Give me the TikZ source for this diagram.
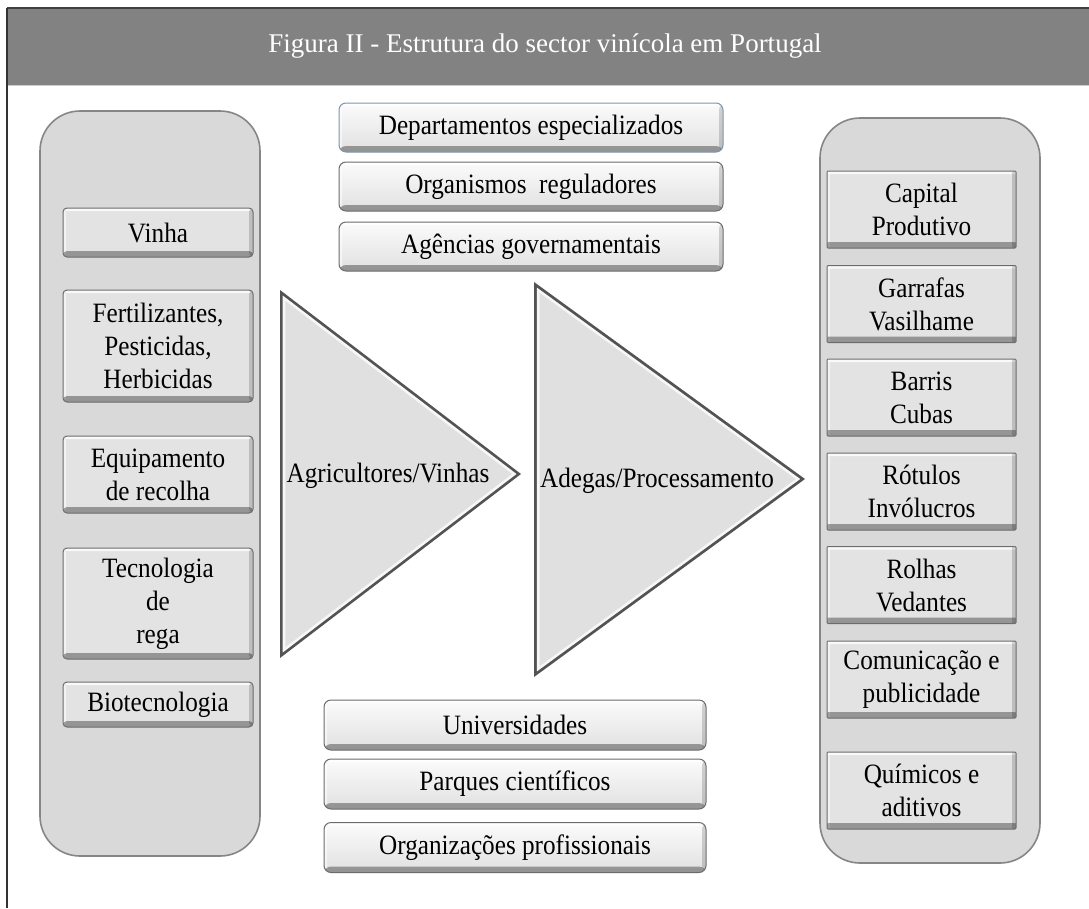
\documentclass[tikz,border=0pt]{standalone}
\usepackage{fontspec}
\setmainfont{Liberation Serif}
\newfontfamily\narrowserif{Liberation Serif}[FakeStretch=0.9]
\usetikzlibrary{calc}

\newcommand\bevelpp{%
  \fill[white,opacity=0.8] (path picture bounding box.north west) rectangle ([yshift=-3pt]path picture bounding box.north east);
  \fill[white,opacity=0.55] (path picture bounding box.north west) rectangle ([xshift=3pt]path picture bounding box.south west);
  \fill[black,opacity=0.16] ([xshift=-4pt]path picture bounding box.north east) rectangle (path picture bounding box.south east);
  \fill[black,opacity=0.34] ([yshift=6pt]path picture bounding box.south west) rectangle (path picture bounding box.south east);
}

\tikzset{
  boxtext/.style={font=\narrowserif\fontsize{28}{33}\selectfont, align=center, inner sep=0pt, text=black},
  panel/.style={fill=gray!30, draw=gray!95, line width=1.6pt, rounded corners=40pt},
  lbox/.style={boxtext, fill=gray!22, draw=gray!85!black, line width=1pt,
    rounded corners=4pt, minimum width=190pt, path picture={\bevelpp}},
  rbox/.style={boxtext, fill=gray!22, draw=gray!85!black, line width=1pt,
    rounded corners=1pt, minimum width=189pt, minimum height=77pt, path picture={\bevelpp}},
  mbox/.style={boxtext, top color=gray!3, bottom color=gray!24, draw=gray!85!black, line width=1pt,
    rounded corners=7pt, minimum height=49pt, path picture={\bevelpp}},
  tritext/.style={font=\narrowserif\fontsize{28}{33}\selectfont, inner sep=0pt, text=black},
}

\begin{document}
\begin{tikzpicture}[x=1pt,y=-1pt]
\useasboundingbox (0,0) rectangle (1089,908);
\fill[white] (0,0) rectangle (1089,908);

% header band and frame
\fill[gray!98] (7,8) rectangle (1089,85);
\draw[gray!40, line width=1pt] (7,85) -- (1089,85);
\draw[black!75, line width=1.6pt] (7,8) -- (1089,8);
\draw[black!80, line width=1.6pt] (7,8) -- (7,908);
\node[text=white, font=\fontsize{27}{32}\selectfont, inner sep=0pt] (title) at (545,46)
  {Figura II - Estrutura do sector vinícola em Portugal};

% side panels
\draw[panel] (40,111) rectangle (260,856);
\draw[panel] (820,118) rectangle (1040,863);

% input boxes, left panel
\node[lbox, minimum height=49pt]  (vinha)  at (158,232.5) {Vinha};
\node[lbox, minimum height=112pt] (fert)   at (158,346)   {Fertilizantes,\\Pesticidas,\\Herbicidas};
\node[lbox, minimum height=77pt]  (equip)  at (158,474.5) {Equipamento\\de recolha};
\node[lbox, minimum height=111pt] (rega)   at (158,603.5) {Tecnologia\\de\\rega};
\node[lbox, minimum height=45pt]  (biotec) at (158,704.5) {Biotecnologia};

% supplier boxes, right panel
\node[rbox] (capital) at (921.5,209.5) {Capital\\Produtivo};
\node[rbox] (garraf)  at (921.5,304)   {Garrafas\\Vasilhame};
\node[rbox] (barris)  at (921.5,397.5) {Barris\\Cubas};
\node[rbox] (rotulos) at (921.5,491.5) {Rótulos\\Invólucros};
\node[rbox] (rolhas)  at (921.5,585)   {Rolhas\\Vedantes};
\node[rbox] (comunic) at (921.5,679.5) {Comunicação e\\publicidade};
\node[rbox] (quimic)  at (921.5,790.5) {Químicos e\\aditivos};

% institutions above
\node[mbox, minimum width=384pt, draw={rgb,255:red,125;green,150;blue,180}] (dept) at (531,127.5) {Departamentos especializados};
\node[mbox, minimum width=384pt] (regul) at (531,186.5) {Organismos~~reguladores};
\node[mbox, minimum width=384pt] (agenc) at (531,246.5) {Agências governamentais};

% institutions below
\node[mbox, minimum width=382pt, minimum height=50pt] (univ)    at (515,725)   {Universidades};
\node[mbox, minimum width=382pt, minimum height=50pt] (parques) at (515,784)   {Parques científicos};
\node[mbox, minimum width=382pt, minimum height=50pt] (orgprof) at (515,847.5) {Organizações profissionais};

% chain triangles with bevelled edges
\coordinate (a1) at (280,290); \coordinate (b1) at (521,474); \coordinate (c1) at (280,658);
\coordinate (i1) at (371,474);
\fill[gray!65!black] (a1) -- (b1) -- (c1) -- cycle;
\fill[gray!6] ($(i1)!0.97!(a1)$) -- ($(i1)!0.97!(b1)$) -- ($(i1)!0.97!(c1)$) -- cycle;
\fill[gray!24] ($(i1)!0.94!(a1)$) -- ($(i1)!0.94!(b1)$) -- ($(i1)!0.94!(c1)$) -- cycle;

\coordinate (a2) at (534,282); \coordinate (b2) at (805,479); \coordinate (c2) at (534,677);
\coordinate (i2) at (634.5,479.5);
\fill[gray!65!black] (a2) -- (b2) -- (c2) -- cycle;
\fill[gray!6] ($(i2)!0.972!(a2)$) -- ($(i2)!0.972!(b2)$) -- ($(i2)!0.972!(c2)$) -- cycle;
\fill[gray!24] ($(i2)!0.945!(a2)$) -- ($(i2)!0.945!(b2)$) -- ($(i2)!0.945!(c2)$) -- cycle;

\node[tritext] (agri)  at (388,476) {Agricultores/Vinhas};
\node[tritext] (adega) at (657,481) {Adegas/Processamento};
\end{tikzpicture}
\end{document}
